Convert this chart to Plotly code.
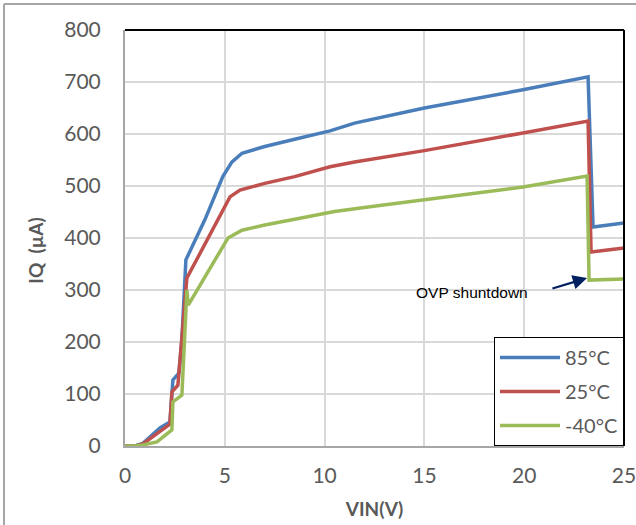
import plotly.graph_objects as go

# ---- data ----
vin_85 = [0, 0.5, 0.9, 1.75, 2.25, 2.4, 2.7, 2.85, 3.05, 4.0, 4.9, 5.35, 5.86, 7, 8.5, 10.27, 11.5, 15, 19.94, 23.2, 23.45, 25]
iq_85 = [0, 0, 5, 35, 46, 127, 140, 204, 358, 435, 518, 546, 563, 576, 590, 606, 621, 650, 685, 710, 421, 429]

vin_25 = [0, 0.5, 0.9, 1.75, 2.25, 2.35, 2.65, 3.1, 4.0, 4.9, 5.26, 5.76, 7, 8.5, 10.27, 11.5, 15, 19.94, 23.2, 23.35, 25]
iq_25 = [0, 0, 4, 28, 42, 104, 117, 323, 388, 456, 479, 492, 505, 518, 537, 546, 568, 602, 625, 373, 381]

vin_m40 = [0, 0.5, 0.9, 1.6, 2.35, 2.4, 2.85, 3.1, 3.17, 4.0, 5.16, 5.86, 7, 8.5, 10.5, 12.27, 15, 19.94, 23.15, 23.25, 25]
iq_m40 = [0, 0, 2, 8, 31, 85, 98, 300, 271, 326, 400, 415, 425, 436, 451, 460, 474, 498, 519, 319, 321]

series_names = ["85°C", "25°C", "-40°C"]
series_colors = ["#4A7EBB", "#C0504D", "#9BBB59"]

x_ticks = [0, 5, 10, 15, 20, 25]
y_ticks = [0, 100, 200, 300, 400, 500, 600, 700, 800]

annot_text = "OVP shuntdown"
annot_pos = (17.36, 296)
arrow_head = (23.15, 323)
arrow_tail = (21.34, 302)

TICK_FONT = dict(family="Lato, Carlito, sans-serif", size=21, color="#595959")

fig = go.Figure()
for xs, ys, name, col in zip([vin_85, vin_25, vin_m40], [iq_85, iq_25, iq_m40], series_names, series_colors):
    fig.add_trace(go.Scatter(x=xs, y=ys, mode="lines", name=name, legendgroup=name,
                             line=dict(color=col, width=3.5)))

fig.update_layout(
    width=636, height=525,
    margin=dict(l=125, r=12, t=30, b=79, autoexpand=False),
    paper_bgcolor="white", plot_bgcolor="white",
    showlegend=True,
    legend=dict(x=1, y=0, xanchor="right", yanchor="bottom",
                bgcolor="white", bordercolor="black", borderwidth=1,
                font=dict(family="Lato, Carlito, sans-serif", size=20, color="#595959"),
                itemwidth=60, tracegroupgap=5),
)
fig.update_xaxes(range=[0, 25], tickvals=x_ticks, showgrid=True, gridcolor="#D9D9D9", gridwidth=1.5,
                 showline=True, linecolor="#A6A6A6", linewidth=2, zeroline=False, automargin=False,
                 ticks="", tickfont=TICK_FONT, ticklabelstandoff=10, ticklabeloverflow="allow",
                 title=dict(text="<b>VIN(V)</b>", font=dict(family="Lato, Carlito, sans-serif", size=19, color="#595959"), standoff=16))
fig.update_yaxes(range=[0, 800], tickvals=y_ticks, showgrid=True, gridcolor="#D9D9D9", gridwidth=1.5,
                 showline=True, linecolor="#A6A6A6", linewidth=2, zeroline=False, automargin=False,
                 ticks="", tickfont=TICK_FONT, ticklabelstandoff=18)

# y-axis title
fig.add_annotation(text="<b>IQ  (µA)</b>", xref="paper", yref="paper", x=-0.18, y=0.47,
                   textangle=-90, showarrow=False, xanchor="center", yanchor="middle",
                   font=dict(family="Lato, Carlito, sans-serif", size=19, color="#595959"))

# plot frame top/right (black)
fig.add_shape(type="line", xref="paper", yref="paper", x0=0, x1=1, y0=1, y1=1, line=dict(color="black", width=2))
fig.add_shape(type="line", xref="paper", yref="paper", x0=1, x1=1, y0=0, y1=1, line=dict(color="black", width=2))
# outer chart border (partially visible)
fig.add_shape(type="line", xref="paper", yref="paper", x0=-0.2425, x1=1.03, y0=1.0625, y1=1.0625, line=dict(color="#A6A6A6", width=2))
fig.add_shape(type="line", xref="paper", yref="paper", x0=-0.2425, x1=-0.2425, y0=-0.2, y1=1.0625, line=dict(color="#A6A6A6", width=2))

# annotation text and arrow
fig.add_annotation(text=annot_text, x=annot_pos[0], y=annot_pos[1], xref="x", yref="y", showarrow=False,
                   font=dict(family="Liberation Sans, Arial, sans-serif", size=15.5, color="black"))
fig.add_annotation(text="", x=arrow_head[0], y=arrow_head[1], ax=arrow_tail[0], ay=arrow_tail[1],
                   xref="x", yref="y", axref="x", ayref="y", showarrow=True,
                   arrowhead=2, arrowsize=1.3, arrowwidth=2.2, arrowcolor="#002060", standoff=0)

fig.write_html("out.html")
